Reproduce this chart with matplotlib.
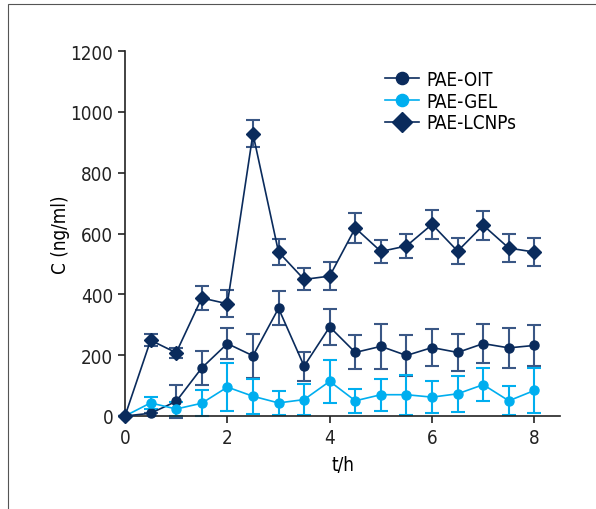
import matplotlib
matplotlib.use("Agg")
import matplotlib.pyplot as plt
from matplotlib.patches import Rectangle

plt.rcParams['font.family'] = ['DejaVu Sans']
plt.rcParams['font.stretch'] = 'condensed'

t = [0, 0.5, 1, 1.5, 2, 2.5, 3, 3.5, 4, 4.5, 5, 5.5, 6, 6.5, 7, 7.5, 8]
oit = [0, 9, 48, 158, 238, 198, 354, 164, 293, 209, 229, 199, 225, 209, 238, 224, 232]
oit_err = [0, 0, 55, 57, 52, 73, 56, 48, 58, 56, 75, 68, 62, 62, 63, 66, 66]
gel = [0, 43, 23, 42, 95, 65, 43, 54, 114, 50, 70, 70, 62, 73, 103, 50, 84]
gel_err = [0, 19, 22, 42, 80, 58, 40, 50, 70, 39, 53, 66, 53, 60, 54, 47, 75]
lcnp = [0, 249, 208, 388, 369, 928, 539, 449, 460, 618, 541, 559, 630, 542, 627, 552, 539]
lcnp_err = [0, 20, 17, 41, 44, 45, 42, 36, 47, 48, 38, 40, 47, 42, 48, 47, 47]

navy = '#0a2b5c'
navy_err = '#3a5785'
cyan = '#00aeef'

fig = plt.figure(figsize=(5.96, 5.10), dpi=100)
fig.patches.append(Rectangle((8/596, -0.1), 1.2, 1 - 5/510 + 0.1, transform=fig.transFigure,
                             fill=False, edgecolor='#555555', linewidth=0.8))
ax = fig.add_axes([125/596, 1 - 417/510, (560 - 125)/596, (417 - 52)/510])

series = [
    ('PAE-OIT', oit, oit_err, navy, navy_err, 'o', 6.5),
    ('PAE-GEL', gel, gel_err, cyan, cyan, 'o', 6.5),
    ('PAE-LCNPs', lcnp, lcnp_err, navy, navy_err, 'D', 7.5),
]
handles = []
for name, y, e, c, ec, m, ms in series:
    ax.errorbar(t, y, yerr=e, fmt='none', ecolor=ec, elinewidth=1.5, capsize=5,
                capthick=1.5, clip_on=False, zorder=2)
    h, = ax.plot(t, y, color=c, marker=m, markersize=ms, linewidth=1.2, clip_on=False,
                 zorder=3, label=name)
    handles.append(h)

ax.set_xlim(0, 8.5)
ax.set_ylim(0, 1200)
ax.set_xticks([0, 2, 4, 6, 8])
ax.set_yticks([0, 200, 400, 600, 800, 1000, 1200])
for s in ['top', 'right']:
    ax.spines[s].set_visible(False)
for s in ['left', 'bottom']:
    ax.spines[s].set_linewidth(1.2)
    ax.spines[s].set_color('#222222')
ax.tick_params(direction='out', length=5, width=1.2, labelsize=13.5, colors='#222222')
ax.set_xlabel('t/h', fontsize=13.5, labelpad=6)
ax.set_ylabel('C (ng/ml)', fontsize=13.5, labelpad=0)

leg = ax.legend(handles=handles, loc='upper left', bbox_to_anchor=(0.56, 0.995), frameon=False,
                fontsize=13.5, handlelength=1.8, handletextpad=0.4, labelspacing=0.15,
                markerscale=1.35)

fig.savefig('out.png', dpi=100)
